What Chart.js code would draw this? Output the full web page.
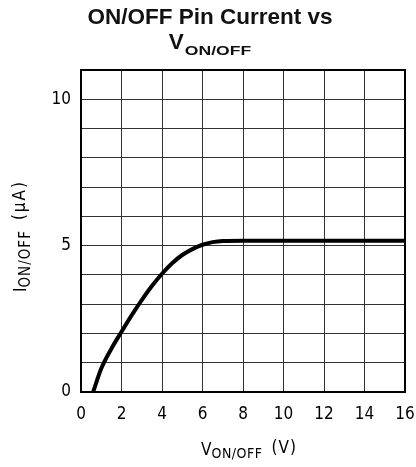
<!DOCTYPE html>
<html>
<head>
<meta charset="utf-8">
<script src="https://cdn.jsdelivr.net/npm/chart.js@4/dist/chart.umd.min.js"></script>
<style>
html,body{margin:0;padding:0;background:#fff;}
#wrap{width:416px;height:467px;}
</style>
</head>
<body>
<div id="wrap"><canvas id="c" width="416" height="467"></canvas></div>
<script>
// Data
const vOnOff = [0.6, 1.0, 1.5, 2.0, 2.5, 3.0, 3.5, 4.0, 4.5, 5.0, 5.5, 6.0, 6.5, 7.0, 8.0, 10, 12, 14, 16];
const iOnOff = [0, 0.8, 1.48, 2.06, 2.62, 3.14, 3.62, 4.04, 4.4, 4.68, 4.88, 5.03, 5.12, 5.16, 5.17, 5.17, 5.17, 5.17, 5.17];
const yLabeled = [0, 5, 10];
const titleLine1 = "ON/OFF Pin Current vs";
const titleLine2 = ["V", "ON/OFF"];
const xTitle = ["V", "ON/OFF", "(V)"];
const yTitle = ["I", "ON/OFF", "(\u03BCA)"];

const TICKF = "'DejaVu Sans Condensed','DejaVu Sans',sans-serif";
const TITF = "'Liberation Sans',Arial,sans-serif";

function drawRich(ctx, parts, x, y) {
  let total = 0;
  parts.forEach(p => {
    ctx.font = p.font;
    ctx.letterSpacing = (p.ls || 0) + 'px';
    p.w = ctx.measureText(p.text).width * (p.sx || 1) + (p.gap || 0);
    total += p.w;
  });
  let cx = x - total / 2;
  parts.forEach(p => {
    ctx.save();
    ctx.font = p.font;
    ctx.letterSpacing = (p.ls || 0) + 'px';
    ctx.textAlign = 'left';
    ctx.textBaseline = 'alphabetic';
    ctx.translate(cx + (p.gap || 0), y + (p.dy || 0));
    ctx.scale(p.sx || 1, 1);
    ctx.fillText(p.text, 0, 0);
    ctx.restore();
    cx += p.w;
  });
  ctx.letterSpacing = '0px';
}

const decor = {
  id: 'decor',
  afterDraw(chart) {
    const ctx = chart.ctx;
    const a = chart.chartArea;
    ctx.save();
    ctx.strokeStyle = '#000';
    ctx.lineWidth = 2;
    ctx.strokeRect(a.left, a.top, a.right - a.left, a.bottom - a.top);
    ctx.fillStyle = '#111';
    // Title
    ctx.font = "bold 22.5px " + TITF;
    ctx.textAlign = 'center';
    ctx.textBaseline = 'alphabetic';
    ctx.fillText(titleLine1, 210, 24);
    drawRich(ctx, [
      {text: titleLine2[0], font: "bold 22.5px " + TITF},
      {text: titleLine2[1], font: "bold 13px " + TITF, dy: 6, sx: 1.35, gap: 1}
    ], 210, 49);
    // X axis title
    ctx.fillStyle = '#000';
    drawRich(ctx, [
      {text: xTitle[0], font: "17px " + TICKF},
      {text: xTitle[1], font: "14px " + TICKF, dy: 3, ls: 0.5},
      {text: xTitle[2], font: "17px " + TICKF, dy: -2, gap: 9, ls: 1}
    ], 249, 455);
    // Y axis title
    ctx.translate(26, 236);
    ctx.rotate(-Math.PI / 2);
    drawRich(ctx, [
      {text: yTitle[0], font: "17px " + TICKF},
      {text: yTitle[1], font: "15px " + TICKF, dy: 4, ls: 1},
      {text: yTitle[2], font: "17px " + TICKF, dy: -1, gap: 10, ls: 2}
    ], 0, 0);
    ctx.restore();
  }
};

new Chart(document.getElementById('c'), {
  type: 'scatter',
  data: {
    datasets: [{
      data: vOnOff.map((v, i) => ({x: v, y: iOnOff[i]})),
      showLine: true,
      borderColor: '#000',
      borderWidth: 4,
      pointRadius: 0,
      cubicInterpolationMode: 'monotone',
      fill: false
    }]
  },
  options: {
    responsive: false,
    animation: false,
    events: [],
    layout: {padding: {top: 70, right: 11, left: 0, bottom: 0}},
    plugins: {legend: {display: false}, tooltip: {enabled: false}, title: {display: false}},
    scales: {
      x: {
        type: 'linear', min: 0, max: 16,
        ticks: {stepSize: 2, color: '#000', font: {family: TICKF, size: 17}, padding: 12, maxRotation: 0},
        grid: {color: '#333', lineWidth: 1, drawTicks: false},
        border: {display: false},
        afterFit(s) { s.height = 75; s.paddingLeft = 0; s.paddingRight = 0; }
      },
      y: {
        min: 0, max: 11,
        ticks: {stepSize: 1, color: '#000', font: {family: TICKF, size: 17}, padding: 10,
          callback: v => yLabeled.includes(v) ? String(v) : ''},
        grid: {color: '#333', lineWidth: 1, drawTicks: false},
        border: {display: false},
        afterFit(s) { s.width = 81; s.paddingTop = 0; s.paddingBottom = 0; }
      }
    }
  },
  plugins: [decor]
});
</script>
</body>
</html>
